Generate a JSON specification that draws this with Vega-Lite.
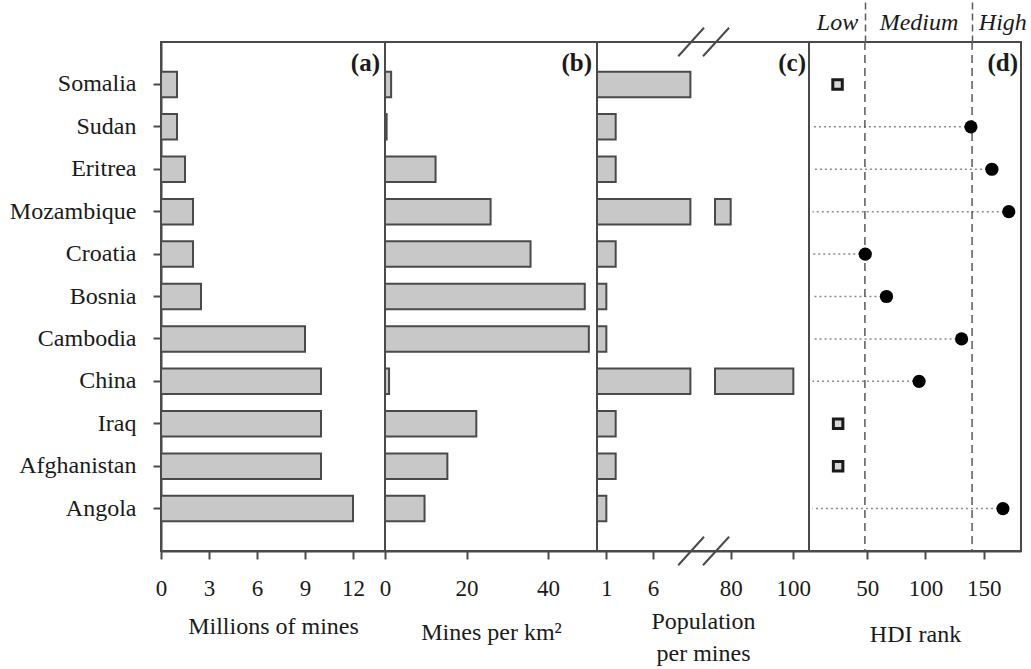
{
  "$schema": "https://vega.github.io/schema/vega-lite/v6.json",
  "padding": {"left": 8, "top": 0, "right": 0, "bottom": 0},
  "background": "white",
  "config": {
    "font": "Liberation Serif",
    "view": {"stroke": "#4a4a4a", "strokeWidth": 2},
    "axis": {
      "labelFont": "Liberation Serif", "titleFont": "Liberation Serif",
      "labelFontSize": 23, "titleFontSize": 24, "titleFontWeight": "normal",
      "labelColor": "#1a1a1a", "titleColor": "#1a1a1a",
      "domainColor": "#4a4a4a", "domainWidth": 2,
      "tickColor": "#4a4a4a", "tickWidth": 2, "tickSize": 8,
      "grid": false, "labelFlush": false, "labelOverlap": false
    }
  },
  "datasets": {
    "mines": [
      {"country": "Somalia", "millions": 1.0, "per_km2": 1.5, "pop_per_mine": 10, "hdi_rank": 24.5, "hdi_ranked": "no"},
      {"country": "Sudan", "millions": 1.0, "per_km2": 0.4, "pop_per_mine": 2.0, "hdi_rank": 139, "hdi_ranked": "yes"},
      {"country": "Eritrea", "millions": 1.5, "per_km2": 12.4, "pop_per_mine": 2.0, "hdi_rank": 157, "hdi_ranked": "yes"},
      {"country": "Mozambique", "millions": 2.0, "per_km2": 25.9, "pop_per_mine": 80, "hdi_rank": 171.5, "hdi_ranked": "yes"},
      {"country": "Croatia", "millions": 2.0, "per_km2": 35.7, "pop_per_mine": 2.0, "hdi_rank": 48.3, "hdi_ranked": "yes"},
      {"country": "Bosnia", "millions": 2.5, "per_km2": 49, "pop_per_mine": 1.0, "hdi_rank": 66.5, "hdi_ranked": "yes"},
      {"country": "Cambodia", "millions": 9.0, "per_km2": 50, "pop_per_mine": 1.0, "hdi_rank": 131, "hdi_ranked": "yes"},
      {"country": "China", "millions": 10.0, "per_km2": 1.0, "pop_per_mine": 100, "hdi_rank": 94.5, "hdi_ranked": "yes"},
      {"country": "Iraq", "millions": 10.0, "per_km2": 22.4, "pop_per_mine": 2.0, "hdi_rank": 25, "hdi_ranked": "no"},
      {"country": "Afghanistan", "millions": 10.0, "per_km2": 15.3, "pop_per_mine": 2.0, "hdi_rank": 25, "hdi_ranked": "no"},
      {"country": "Angola", "millions": 12.0, "per_km2": 9.7, "pop_per_mine": 1.0, "hdi_rank": 166.5, "hdi_ranked": "yes"}
    ]
  },
  "spacing": 0,
  "bounds": "flush",
  "resolve": {"scale": {"x": "independent", "y": "independent"}},
  "hconcat": [
    {
      "width": 224, "height": 509,
      "layer": [
        {
          "data": {"name": "mines"},
          "mark": {"type": "bar", "fill": "#c8c8c8", "stroke": "#4a4a4a", "strokeWidth": 2},
          "encoding": {
            "x": {"field": "millions", "type": "quantitative", "scale": {"domain": [0, 14], "nice": false},
                  "axis": {"values": [0, 3, 6, 9, 12], "title": "Millions of mines", "labelPadding": 18, "titlePadding": 14}},
            "y": {"field": "country", "type": "nominal", "sort": null,
                  "scale": {"domain": ["Somalia","Sudan","Eritrea","Mozambique","Croatia","Bosnia","Cambodia","China","Iraq","Afghanistan","Angola"], "paddingInner": 0.4, "paddingOuter": 0.7},
                  "axis": {"title": null, "labelFontSize": 24, "labelPadding": 17, "tickSize": 8, "domain": true}}
          }
        },
        {
          "data": {"values": [{"panel": "(a)"}]},
          "mark": {"type": "text", "align": "right", "baseline": "middle", "fontWeight": "bold", "fontSize": 25, "dx": -5, "dy": -21, "color": "#1a1a1a"},
          "encoding": {
            "text": {"field": "panel"},
            "x": {"datum": 14, "type": "quantitative"},
            "y": {"datum": "Somalia", "type": "nominal"}
          }
        }
      ]
    },
    {
      "width": 212, "height": 509,
      "layer": [
        {
          "data": {"name": "mines"},
          "mark": {"type": "bar", "fill": "#c8c8c8", "stroke": "#4a4a4a", "strokeWidth": 2},
          "encoding": {
            "x": {"field": "per_km2", "type": "quantitative", "scale": {"domain": [0, 52], "nice": false},
                  "axis": {"values": [0, 20, 40], "title": "Mines per km²", "labelPadding": 18, "titlePadding": 20}},
            "y": {"field": "country", "type": "nominal", "sort": null,
                  "scale": {"domain": ["Somalia","Sudan","Eritrea","Mozambique","Croatia","Bosnia","Cambodia","China","Iraq","Afghanistan","Angola"], "paddingInner": 0.4, "paddingOuter": 0.7},
                  "axis": null}
          }
        },
        {
          "data": {"values": [{"panel": "(b)"}]},
          "mark": {"type": "text", "align": "right", "baseline": "middle", "fontWeight": "bold", "fontSize": 25, "dx": -5, "dy": -21, "color": "#1a1a1a"},
          "encoding": {
            "text": {"field": "panel"},
            "x": {"datum": 52, "type": "quantitative"},
            "y": {"datum": "Somalia", "type": "nominal"}
          }
        }
      ]
    },
    {
      "width": 212, "height": 509,
      "resolve": {"scale": {"y": "independent"}},
      "layer": [
        {
          "layer": [
            {
              "data": {"name": "mines"},
              "transform": [{"filter": "datum.pop_per_mine <= 10"}],
              "mark": {"type": "bar", "fill": "#c8c8c8", "stroke": "#4a4a4a", "strokeWidth": 2},
              "encoding": {
                "x": {"field": "pop_per_mine", "type": "quantitative",
                      "scale": {"domain": [0, 10, 75, 105], "range": [0, 93.4, 118, 212], "nice": false, "zero": false},
                      "axis": {"values": [1, 6, 80, 100], "title": ["Population", "per mines"], "labelPadding": 18, "titlePadding": 9, "titleLineHeight": 32}},
                "y": {"field": "country", "type": "nominal", "sort": null,
                      "scale": {"domain": ["Somalia","Sudan","Eritrea","Mozambique","Croatia","Bosnia","Cambodia","China","Iraq","Afghanistan","Angola"], "paddingInner": 0.4, "paddingOuter": 0.7},
                      "axis": null}
              }
            },
            {
              "data": {"name": "mines"},
              "transform": [{"filter": "datum.pop_per_mine > 10"}],
              "mark": {"type": "bar", "fill": "#c8c8c8", "stroke": "#4a4a4a", "strokeWidth": 2},
              "encoding": {
                "x": {"datum": 10, "type": "quantitative"},
                "x2": {"datum": 0},
                "y": {"field": "country", "type": "nominal", "sort": null}
              }
            },
            {
              "data": {"name": "mines"},
              "transform": [{"filter": "datum.pop_per_mine >= 75"}],
              "mark": {"type": "bar", "fill": "#c8c8c8", "stroke": "#4a4a4a", "strokeWidth": 2},
              "encoding": {
                "x": {"field": "pop_per_mine", "type": "quantitative"},
                "x2": {"datum": 75},
                "y": {"field": "country", "type": "nominal", "sort": null}
              }
            },
            {
              "data": {"values": [{"panel": "(c)"}]},
              "mark": {"type": "text", "align": "right", "baseline": "middle", "fontWeight": "bold", "fontSize": 25, "dx": -3, "dy": -21, "color": "#1a1a1a"},
              "encoding": {
                "text": {"field": "panel"},
                "x": {"datum": 105, "type": "quantitative"},
                "y": {"datum": "Somalia", "type": "nominal"}
              }
            }
          ]
        },
        {
          "data": {"values": [{"mark": "axis break"}]},
          "layer": [
            {
              "mark": {"type": "rule", "stroke": "#4a4a4a", "strokeWidth": 2},
              "encoding": {
                "x": {"datum": 8.7, "type": "quantitative"}, "x2": {"datum": 45.9},
                "y": {"datum": -0.028, "type": "quantitative", "scale": {"domain": [0, 1], "nice": false, "zero": false}, "axis": null}, "y2": {"datum": 0.028}
              }
            },
            {
              "mark": {"type": "rule", "stroke": "#4a4a4a", "strokeWidth": 2},
              "encoding": {
                "x": {"datum": 43.3, "type": "quantitative"}, "x2": {"datum": 79.5},
                "y": {"datum": -0.028, "type": "quantitative"}, "y2": {"datum": 0.028}
              }
            },
            {
              "mark": {"type": "rule", "stroke": "#4a4a4a", "strokeWidth": 2},
              "encoding": {
                "x": {"datum": 8.7, "type": "quantitative"}, "x2": {"datum": 45.9},
                "y": {"datum": 0.972, "type": "quantitative"}, "y2": {"datum": 1.028}
              }
            },
            {
              "mark": {"type": "rule", "stroke": "#4a4a4a", "strokeWidth": 2},
              "encoding": {
                "x": {"datum": 43.3, "type": "quantitative"}, "x2": {"datum": 79.5},
                "y": {"datum": 0.972, "type": "quantitative"}, "y2": {"datum": 1.028}
              }
            }
          ]
        }
      ]
    },
    {
      "width": 212, "height": 509,
      "resolve": {"axis": {"x": "independent"}},
      "layer": [
        {
          "data": {"name": "mines"},
          "transform": [{"filter": "datum.hdi_ranked == 'yes'"}],
          "mark": {"type": "rule", "stroke": "#8a8a8a", "strokeWidth": 1.5, "strokeDash": [2, 3]},
          "encoding": {
            "x": {"field": "hdi_rank", "type": "quantitative",
                  "scale": {"domain": [0, 182], "nice": false, "zero": false},
                  "axis": {"values": [50, 100, 150], "title": "HDI rank", "labelPadding": 18, "titlePadding": 22}},
            "x2": {"datum": 3},
            "y": {"field": "country", "type": "nominal", "sort": null,
                  "scale": {"domain": ["Somalia","Sudan","Eritrea","Mozambique","Croatia","Bosnia","Cambodia","China","Iraq","Afghanistan","Angola"], "paddingInner": 0.4, "paddingOuter": 0.7},
                  "axis": null}
          }
        },
        {
          "data": {"values": [{"boundary": "low/medium"}]},
          "mark": {"type": "rule", "stroke": "#5a5a5a", "strokeWidth": 1.5, "strokeDash": [8, 5]},
          "encoding": {
            "x": {"datum": 48, "type": "quantitative",
                  "axis": {"orient": "top", "values": [24, 48, 94, 140, 166], "title": null, "domain": false,
                           "labelExpr": "datum.value == 24 ? 'Low' : datum.value == 94 ? 'Medium' : datum.value == 166 ? 'High' : ''",
                           "labelFontStyle": "italic", "labelFontSize": 24, "labelBaseline": "alphabetic", "labelPadding": -27,
                           "tickSize": 40, "tickWidth": 1.5, "tickColor": "#5a5a5a", "tickDash": [7, 4],
                           "tickOpacity": {"condition": {"test": "datum.value == 48 || datum.value == 140", "value": 1}, "value": 0}}}
          }
        },
        {
          "data": {"values": [{"boundary": "medium/high"}]},
          "mark": {"type": "rule", "stroke": "#5a5a5a", "strokeWidth": 1.5, "strokeDash": [8, 5]},
          "encoding": {"x": {"datum": 140, "type": "quantitative", "axis": null}}
        },
        {
          "data": {"name": "mines"},
          "transform": [{"filter": "datum.hdi_ranked == 'yes'"}],
          "mark": {"type": "point", "shape": "circle", "filled": true, "color": "#000", "size": 175, "opacity": 1},
          "encoding": {
            "x": {"field": "hdi_rank", "type": "quantitative", "axis": null},
            "y": {"field": "country", "type": "nominal", "sort": null}
          }
        },
        {
          "data": {"name": "mines"},
          "transform": [{"filter": "datum.hdi_ranked == 'no'"}],
          "mark": {"type": "point", "shape": "square", "filled": false, "fill": "#d8d8d8", "fillOpacity": 1, "stroke": "#1a1a1a", "strokeWidth": 3, "size": 90, "opacity": 1},
          "encoding": {
            "x": {"field": "hdi_rank", "type": "quantitative", "axis": null},
            "y": {"field": "country", "type": "nominal", "sort": null}
          }
        },
        {
          "data": {"values": [{"panel": "(d)"}]},
          "mark": {"type": "text", "align": "right", "baseline": "middle", "fontWeight": "bold", "fontSize": 25, "dx": -3, "dy": -21, "color": "#1a1a1a"},
          "encoding": {
            "text": {"field": "panel"},
            "x": {"datum": 182, "type": "quantitative", "axis": null},
            "y": {"datum": "Somalia", "type": "nominal"}
          }
        }
      ]
    }
  ]
}
